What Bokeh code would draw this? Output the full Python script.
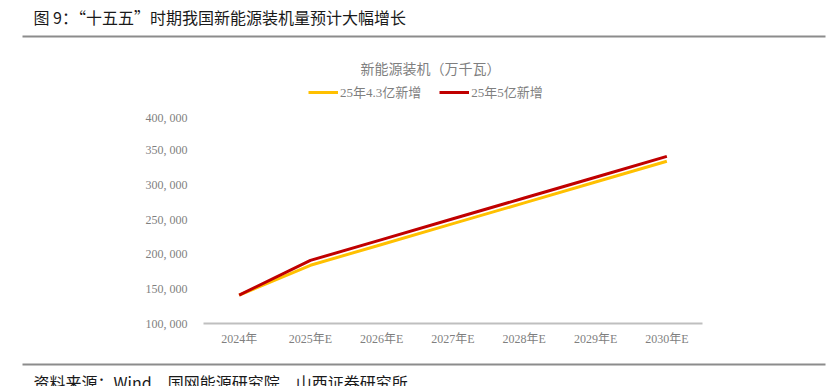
from bokeh.plotting import figure
from bokeh.layouts import column
from bokeh.models import (Label, BoxAnnotation, Legend, LegendItem, FixedTicker,
                          Range1d, FactorRange)
from bokeh.embed import file_html
from bokeh.resources import INLINE

# ---- data ----
categories = ["2024年", "2025年E", "2026年E", "2027年E", "2028年E", "2029年E", "2030年E"]
series_43 = [141000, 184000, 214000, 244000, 274000, 304000, 334000]
series_5 = [141000, 191000, 221000, 251000, 281000, 311000, 341000]
series_names = ["25年4.3亿新增", "25年5亿新增"]
y_ticks = [100000, 150000, 200000, 250000, 300000, 350000, 400000]
y_tick_labels = ["100, 000", "150, 000", "200, 000", "250, 000", "300, 000", "350, 000", "400, 000"]
page_title = "图 9：“十五五”时期我国新能源装机量预计大幅增长"
chart_title = "新能源装机（万千瓦）"
source_text = "资料来源：Wind、国网能源研究院、山西证券研究所"

SERIF = "Liberation Serif, Noto Sans CJK SC"
CJK = "Noto Sans CJK SC"
YELLOW = "#FFC000"
RED = "#C00000"
GRAY_TXT = "#7f7f7f"
W = 828


def blank(h):
    f = figure(width=W, height=h, output_backend="svg", toolbar_location=None,
               x_range=Range1d(0, W), y_range=Range1d(h, 0),
               x_axis_type=None, y_axis_type=None, min_border=0)
    f.frame_align = False
    f.outline_line_color = None
    f.xgrid.grid_line_color = None
    f.ygrid.grid_line_color = None
    return f


# ---- header ----
HEAD_H = 110
head = blank(HEAD_H)
head.add_layout(Label(x=33, y=16, text=page_title, text_align="left",
                      text_baseline="middle", text_font=CJK, text_font_size="16px",
                      text_color="#1a1a1a"))
head.add_layout(BoxAnnotation(left=22, right=825, top=35, bottom=37,
                              fill_color="#8c8c8c", fill_alpha=1, line_color=None))
head.add_layout(Label(x=430, y=67, text=chart_title, text_align="center",
                      text_baseline="middle", text_font=CJK, text_font_size="14px",
                      text_color=GRAY_TXT))
# legend proxies (kept outside the visible header range)
d1 = head.line([-20, -10], [-20, -20], line_color=YELLOW, line_width=3)
d2 = head.line([-20, -10], [-20, -20], line_color=RED, line_width=3)
legend = Legend(items=[LegendItem(label=series_names[0], renderers=[d1]),
                       LegendItem(label=series_names[1], renderers=[d2])],
                orientation="horizontal", location=(308, 9),
                glyph_width=30, glyph_height=14, label_standoff=2, spacing=18,
                padding=0, margin=0, border_line_color=None,
                background_fill_alpha=0, label_text_font=SERIF,
                label_text_font_size="13px", label_text_color=GRAY_TXT,
                label_height=14)
head.add_layout(legend, "center")

# ---- main chart ----
MAIN_H = 240
p = figure(width=W, height=MAIN_H, output_backend="svg", toolbar_location=None,
           x_range=FactorRange(*categories, range_padding=0),
           y_range=Range1d(100000, 400000),
           min_border_left=203, min_border_right=126, min_border_top=5,
           min_border_bottom=27)
p.frame_align = False
p.outline_line_color = None
p.xgrid.grid_line_color = None
p.ygrid.grid_line_color = None

p.line(categories, series_43, line_color=YELLOW, line_width=3)
p.line(categories, series_5, line_color=RED, line_width=3)

p.yaxis.ticker = FixedTicker(ticks=y_ticks)
p.yaxis.major_label_overrides = {t: l for t, l in zip(y_ticks, y_tick_labels)}
p.yaxis.axis_line_color = None
p.yaxis.major_tick_line_color = None
p.yaxis.minor_tick_line_color = None
p.yaxis.major_tick_out = 0
p.yaxis.major_label_standoff = 16
p.yaxis.major_label_text_font = SERIF
p.yaxis.major_label_text_font_size = "12px"
p.yaxis.major_label_text_color = GRAY_TXT

p.xaxis.axis_line_color = "#BFBFBF"
p.xaxis.axis_line_width = 2
p.xaxis.major_tick_line_color = None
p.xaxis.minor_tick_line_color = None
p.xaxis.major_tick_out = 0
p.xaxis.major_label_standoff = 8
p.xaxis.major_label_text_font = SERIF
p.xaxis.major_label_text_font_size = "12px"
p.xaxis.major_label_text_color = GRAY_TXT

# ---- footer ----
FOOT_H = 36
foot = blank(FOOT_H)
foot.add_layout(BoxAnnotation(left=22, right=825, top=13, bottom=15,
                              fill_color="#8c8c8c", fill_alpha=1, line_color=None))
foot.add_layout(Label(x=33, y=31, text=source_text, text_align="left",
                      text_baseline="middle", text_font=CJK, text_font_size="16px",
                      text_color="#1a1a1a"))

layout = column(head, p, foot, spacing=0)
open("out.html", "w").write(file_html(layout, INLINE))
